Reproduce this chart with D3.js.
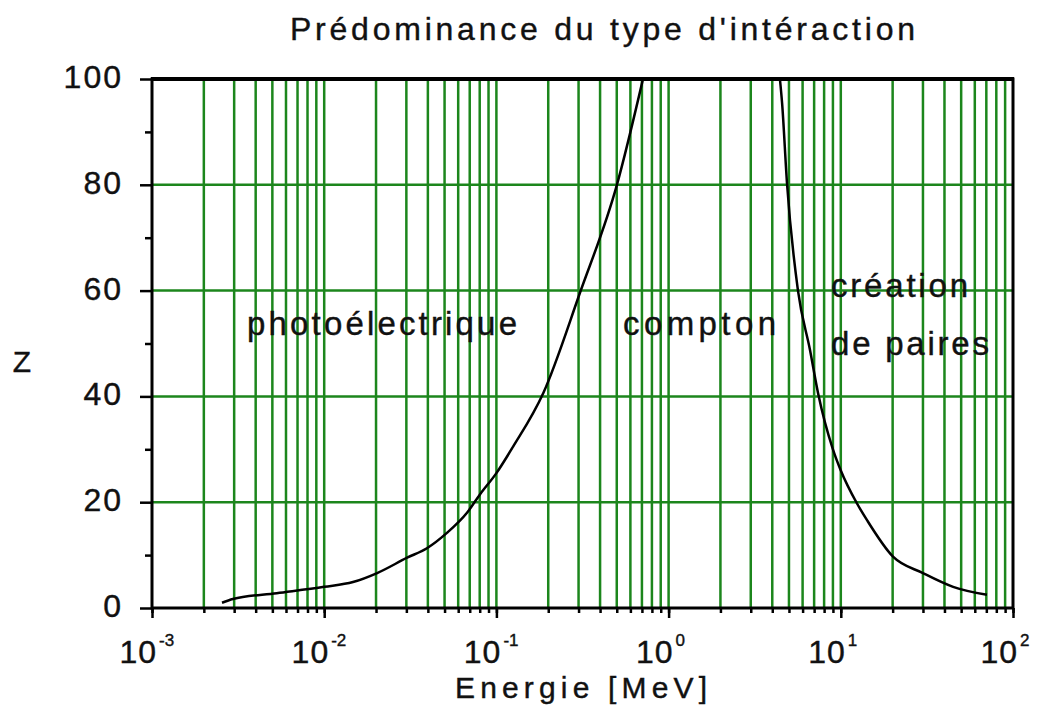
<!DOCTYPE html>
<html>
<head>
<meta charset="utf-8">
<script src="https://cdn.jsdelivr.net/npm/d3@7"></script>
<style>
  body { margin: 0; background: #fff; }
  text { font-family: "Liberation Sans", Arial, sans-serif; fill: #111; stroke: #111; stroke-width: 0.4; }
</style>
</head>
<body>
<div id="chart"></div>
<script>
var width = 1045;
var height = 705;

// frontière photoélectrique / compton
var photoE = [0.00255, 0.00295, 0.0053, 0.01, 0.0147, 0.0203, 0.0303, 0.0395, 0.0516, 0.0675, 0.0804, 0.1, 0.125, 0.187, 0.305, 0.501, 0.71];
var photoZ = [1, 1.7, 2.8, 4, 4.9, 6.6, 9.5, 11.3, 14.2, 18, 21.5, 25.5, 30.5, 40.6, 59.5, 80, 100];
// frontière compton / création de paires
var pairE = [4.43, 4.56, 4.87, 5.64, 6.62, 7.38, 9.0, 10, 12.4, 14.2, 20.1, 30, 44.9, 70.6];
var pairZ = [100, 95.5, 80.3, 60, 48.8, 40.6, 30, 26, 19.8, 16.6, 9.7, 6.6, 4, 2.5];

var yTicks = [0, 20, 40, 60, 80, 100];
var yMinor = [10, 30, 50, 70, 90];
var decades = [-3, -2, -1, 0, 1, 2];

var regions = [
  {text: "photoélectrique", x: 247, y: 335, len: 270},
  {text: "compton", x: 623, y: 335, len: 153},
  {text: "création", x: 831, y: 297, len: 137},
  {text: "de paires", x: 831, y: 355, len: 158}
];

var pLeft = 152, pRight = 1013, pTop = 79, pBottom = 608;
var green = "#1c861c";

var svg = d3.select("#chart")
        .append("svg")
            .attr("width", width)
            .attr("height", height);

var x = d3.scaleLog().domain([1e-3, 1e2]).range([pLeft, pRight]);
var y = d3.scaleLinear().domain([0, 100]).range([pBottom, pTop]);

// grille verticale
var grid = x.ticks().filter(d => d > 1e-3 && d < 1e2);
svg.append("g").selectAll("line").data(grid).enter().append("line")
    .attr("x1", d => x(d)).attr("x2", d => x(d))
    .attr("y1", pTop).attr("y2", pBottom)
    .attr("stroke", green).attr("stroke-width", 2.5);

// grille horizontale
svg.append("g").selectAll("line").data(yTicks.filter(d => d > 0 && d < 100)).enter().append("line")
    .attr("x1", pLeft).attr("x2", pRight)
    .attr("y1", d => y(d)).attr("y2", d => y(d))
    .attr("stroke", green).attr("stroke-width", 2.5);

// axes
svg.append("g").attr("transform", `translate(0,${pBottom})`)
    .call(d3.axisBottom(x).tickValues(x.ticks()).tickSize(5).tickFormat(""));
svg.append("g").attr("transform", `translate(0,${pBottom})`)
    .call(d3.axisBottom(x).tickValues(decades.map(d => Math.pow(10, d))).tickSize(10).tickFormat(""));
svg.append("g").attr("transform", `translate(${pLeft},0)`)
    .call(d3.axisLeft(y).tickValues(yMinor).tickSize(7).tickFormat(""));
svg.append("g").attr("transform", `translate(${pLeft},0)`)
    .call(d3.axisLeft(y).tickValues(yTicks).tickSize(12).tickFormat(""));
svg.selectAll(".domain").remove();
svg.selectAll(".tick line").attr("stroke", "#000").attr("stroke-width", 2.5);

// cadre
svg.append("rect")
    .attr("x", pLeft).attr("y", pTop)
    .attr("width", pRight - pLeft).attr("height", pBottom - pTop)
    .attr("fill", "none").attr("stroke", "#000").attr("stroke-width", 3);
svg.append("line").attr("x1", pLeft - 1).attr("x2", pRight + 1).attr("y1", pTop).attr("y2", pTop)
    .attr("stroke", "#000").attr("stroke-width", 4);

// courbes
var line = d3.line().x(d => x(d[0])).y(d => y(d[1])).curve(d3.curveMonotoneX);
svg.append("path").datum(d3.zip(photoE, photoZ))
    .attr("d", line).attr("fill", "none").attr("stroke", "#000").attr("stroke-width", 2.5);
svg.append("path").datum(d3.zip(pairE, pairZ))
    .attr("d", line).attr("fill", "none").attr("stroke", "#000").attr("stroke-width", 2.5);

// étiquettes axe y
svg.append("g").selectAll("text").data(yTicks).enter().append("text")
    .attr("x", 123).attr("y", d => y(d) + 9)
    .attr("text-anchor", "end")
    .attr("font-size", 32).attr("letter-spacing", 2)
    .text(d => d);

// étiquettes axe x (puissances de 10)
var lab = svg.append("g").selectAll("g").data(decades).enter().append("g");
lab.append("text")
    .attr("x", d => x(Math.pow(10, d)) + 5).attr("y", 663)
    .attr("text-anchor", "end").attr("font-size", 32).attr("letter-spacing", 1)
    .text("10");
lab.append("text")
    .attr("x", d => x(Math.pow(10, d)) + 7).attr("y", 646)
    .attr("font-size", 17)
    .text(d => d);

// titres
svg.append("text").attr("x", 290).attr("y", 40)
    .attr("font-size", 32).attr("textLength", 625).attr("lengthAdjust", "spacing")
    .text("Prédominance du type d'intéraction");
svg.append("text").attr("x", 455).attr("y", 698)
    .attr("font-size", 30).attr("textLength", 252).attr("lengthAdjust", "spacing")
    .text("Energie [MeV]");
svg.append("text").attr("x", 22).attr("y", 372)
    .attr("text-anchor", "middle").attr("font-size", 30)
    .text("Z");

svg.append("g").selectAll("text").data(regions).enter().append("text")
    .attr("x", d => d.x).attr("y", d => d.y)
    .attr("font-size", 33)
    .attr("textLength", d => d.len).attr("lengthAdjust", "spacing")
    .text(d => d.text);
</script>
</body>
</html>
